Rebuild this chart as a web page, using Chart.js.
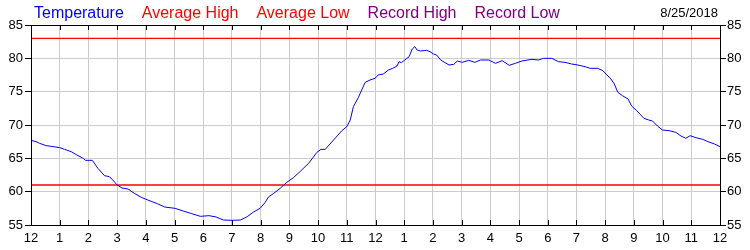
<!DOCTYPE html>
<html>
<head>
<meta charset="utf-8">
<script src="https://cdn.jsdelivr.net/npm/chart.js@4/dist/chart.umd.min.js"></script>
<style>
  html, body { margin: 0; padding: 0; background: #fff; }
  #wrap { width: 750px; height: 250px; }
</style>
</head>
<body>
<div id="wrap"><canvas id="tempChart"></canvas></div>
<script>
// Temperatura del día (hora decimal, °F)
const hours = [0, 0.18, 0.3, 0.53, 0.7, 1.0, 1.17, 1.4, 1.6, 1.82, 1.9, 2.14, 2.33, 2.56, 2.73, 2.88,
    3.0, 3.17, 3.38, 3.6, 3.84, 4.07, 4.4, 4.66, 5.02, 5.3, 5.6, 5.9, 6.2, 6.45, 6.7, 7.0, 7.3,
    7.53, 7.75, 7.98, 8.15, 8.27, 8.44, 8.68, 8.91, 9.14, 9.38, 9.67, 9.96, 10.1, 10.25, 10.54,
    10.83, 11.0, 11.12, 11.23, 11.4, 11.52, 11.64, 11.81, 11.98, 12.1, 12.27, 12.45, 12.6, 12.75,
    12.82, 12.9, 13.02, 13.17, 13.28, 13.37, 13.45, 13.57, 13.78, 13.9, 14.02, 14.13, 14.27,
    14.56, 14.73, 14.85, 15.02, 15.25, 15.46, 15.66, 15.95, 16.18, 16.41, 16.66, 16.87, 17.1,
    17.45, 17.68, 17.85, 18.14, 18.37, 18.6, 18.83, 19.05, 19.3, 19.48, 19.74, 19.92, 20.03,
    20.2, 20.32, 20.44, 20.6, 20.8, 20.92, 21.1, 21.35, 21.52, 21.65, 21.82, 22.0, 22.23, 22.46,
    22.64, 22.81, 22.96, 23.16, 23.4, 23.58, 23.81, 24.0];
const temps = [67.7, 67.5, 67.25, 66.9, 66.8, 66.6, 66.35, 66.0, 65.5, 65.0, 64.7, 64.7, 63.5, 62.4, 62.25, 61.6,
    61.0, 60.55, 60.4, 59.75, 59.15, 58.75, 58.2, 57.7, 57.5, 57.1, 56.7, 56.3, 56.4, 56.2, 55.75, 55.7, 55.75,
    56.25, 56.95, 57.5, 58.35, 59.2, 59.7, 60.5, 61.4, 62.1, 63.05, 64.25, 65.9, 66.35, 66.35, 67.75,
    69.15, 69.75, 70.75, 72.75, 74.1, 75.25, 76.4, 76.75, 77.0, 77.5, 77.65, 78.25, 78.5, 78.85,
    79.5, 79.35, 79.75, 80.25, 81.4, 81.75, 81.25, 81.1, 81.2, 81.0, 80.65, 80.5, 79.75,
    79.0, 79.1, 79.6, 79.4, 79.7, 79.4, 79.75, 79.75, 79.25, 79.65, 78.95, 79.25, 79.6,
    79.85, 79.75, 80.0, 80.0, 79.5, 79.4, 79.15, 79.0, 78.75, 78.5, 78.5, 78.15, 77.65,
    76.9, 76.15, 74.9, 74.4, 73.9, 72.85, 72.15, 71.0, 70.75, 70.6, 69.85, 69.25, 69.15, 68.9,
    68.35, 68.0, 68.4, 68.1, 67.85, 67.5, 67.15, 66.75];
const avgHigh = 83;
const avgLow = 61;
const hourLabels = ['12', '1', '2', '3', '4', '5', '6', '7', '8', '9', '10', '11',
    '12', '1', '2', '3', '4', '5', '6', '7', '8', '9', '10', '11', '12'];
const fecha = '8/25/2018';

const tempPoints = hours.map((h, i) => ({ x: h, y: temps[i] }));
const flat = v => [{ x: 0, y: v }, { x: 24, y: v }];

// Leyenda de texto coloreado, marco y marcas hacia adentro
const extras = {
    id: 'extras',
    afterDraw(chart) {
        const ctx = chart.ctx;
        const a = chart.chartArea;
        const xs = chart.scales.x;
        ctx.save();
        ctx.strokeStyle = '#000';
        ctx.lineWidth = 1;
        ctx.beginPath();
        xs.ticks.forEach(t => {
            const px = Math.round(xs.getPixelForValue(t.value)) + 0.5;
            ctx.moveTo(px, a.top); ctx.lineTo(px, a.top + 5);
            ctx.moveTo(px, a.bottom); ctx.lineTo(px, a.bottom - 5);
        });
        ctx.stroke();
        ctx.strokeRect(Math.round(a.left) + 0.5, Math.round(a.top) + 0.5,
            Math.round(a.right - a.left), Math.round(a.bottom - a.top));

        ctx.font = '16px "Liberation Sans", Arial, sans-serif';
        ctx.textBaseline = 'alphabetic';
        ctx.textAlign = 'left';
        let x = 34;
        chart.data.datasets.forEach(ds => {
            ctx.fillStyle = ds.borderColor;
            ctx.fillText(ds.label, x, 18);
            x += ctx.measureText(ds.label).width + 18;
        });
        ctx.font = '13px "Liberation Sans", Arial, sans-serif';
        ctx.fillStyle = '#000';
        ctx.textAlign = 'right';
        ctx.fillText(fecha, 718, 17);
        ctx.restore();
    }
};

const tickFont = { family: '"Liberation Sans", Arial, sans-serif', size: 13 };

const tempChart = new Chart(document.getElementById('tempChart'), {
    type: 'line',
    data: {
        datasets: [
            { label: 'Temperature', data: tempPoints, borderColor: '#0000ff', borderWidth: 1, pointRadius: 0, tension: 0 },
            { label: 'Average High', data: flat(avgHigh), borderColor: '#ff0000', borderWidth: 1.3, pointRadius: 0 },
            { label: 'Average Low', data: flat(avgLow), borderColor: '#ff0000', borderWidth: 1.3, pointRadius: 0 },
            { label: 'Record High', data: [], borderColor: '#800080', borderWidth: 1, pointRadius: 0 },
            { label: 'Record Low', data: [], borderColor: '#800080', borderWidth: 1, pointRadius: 0 }
        ]
    },
    options: {
        responsive: true,
        maintainAspectRatio: false,
        animation: false,
        layout: { padding: { top: 25, left: 0, right: 0, bottom: 0 } },
        plugins: {
            legend: { display: false },
            tooltip: { enabled: false }
        },
        scales: {
            x: {
                type: 'linear',
                min: 0,
                max: 24,
                grid: { color: '#cccccc', drawTicks: false },
                border: { display: false },
                ticks: {
                    stepSize: 1,
                    padding: 6,
                    color: '#000',
                    font: tickFont,
                    maxRotation: 0,
                    autoSkip: false,
                    callback: v => hourLabels[v]
                },
                afterFit: s => { s.height = 25; }
            },
            y: {
                position: 'left',
                min: 55,
                max: 85,
                grid: { color: '#cccccc', tickColor: '#000', tickLength: 6 },
                border: { display: false },
                ticks: { stepSize: 5, padding: 2, color: '#000', font: tickFont },
                afterFit: s => { s.width = 31; }
            },
            y2: {
                position: 'right',
                min: 55,
                max: 85,
                grid: { drawOnChartArea: false, tickColor: '#000', tickLength: 6 },
                border: { display: false },
                ticks: { stepSize: 5, padding: 1, color: '#000', font: tickFont },
                afterFit: s => { s.width = 30; }
            }
        }
    },
    plugins: [extras]
});
</script>
</body>
</html>
